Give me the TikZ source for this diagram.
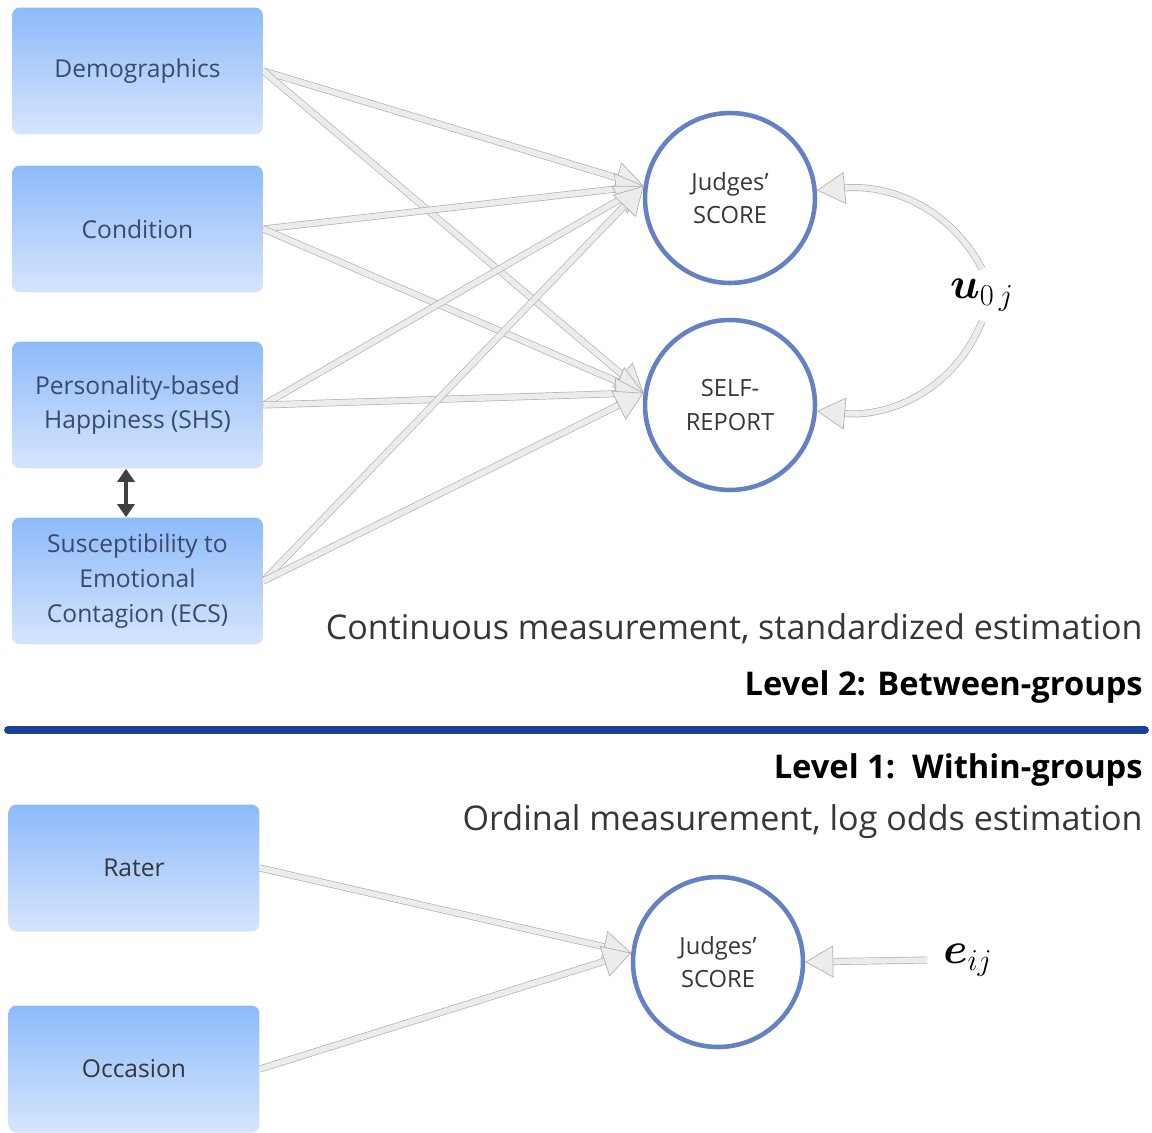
\documentclass[tikz,border=0pt]{standalone}
\usepackage{amsmath,bm}
\usepackage[no-math]{fontspec}
\setmainfont{Open Sans}
\usetikzlibrary{arrows.meta,positioning,calc}
\definecolor{boxtop}{RGB}{141,187,250}
\definecolor{boxbot}{RGB}{214,229,253}
\definecolor{boxtext}{RGB}{58,74,106}
\definecolor{darktext}{RGB}{55,55,55}
\definecolor{circblue}{RGB}{100,130,195}
\definecolor{sepblue}{RGB}{28,64,150}
\definecolor{arrfill}{RGB}{236,236,236}
\definecolor{arrline}{RGB}{178,178,178}

\begin{document}
\begin{tikzpicture}[x=0.02cm, y=-0.02cm,
    factor/.style={rectangle, rounded corners=0.16cm, top color=boxtop, bottom color=boxbot,
        minimum width=5.02cm, minimum height=2.54cm, text=boxtext, align=center,
        font=\fontsize{14}{19.8}\selectfont, inner sep=2pt},
    latent/.style={circle, draw=circblue, line width=2.6pt, fill=white, minimum size=3.4cm,
        text=darktext, align=center, font=\fontsize{13.5}{19}\selectfont},
    conn/.style={draw=arrline, double=arrfill, double distance=3.2pt, line width=0.4pt,
        -{Triangle[length=0.56cm, width=0.64cm, fill=arrfill]}},
    biarrow/.style={line width=2.4pt, draw=black!75, {Triangle[length=0.26cm, width=0.34cm]}-{Triangle[length=0.26cm, width=0.34cm]}},
    caption/.style={anchor=east, inner sep=0pt, text=darktext, font=\fontsize{19.4}{23}\selectfont},
    level/.style={anchor=east, inner sep=0pt, text=black, font=\fontsize{18.6}{23}\selectfont\bfseries},
    errterm/.style={font=\fontsize{25}{30}\selectfont}
]
    \useasboundingbox (0,0) rectangle (1152,1132);

    % level 2 predictors
    \node[factor] (demo) at (137.5,71) {Demographics};
    \node[factor] (cond) at (137.5,229) {Condition};
    \node[factor] (shs) at (137.5,405) {Personality-based\\Happiness (SHS)};
    \node[factor] (ecs) at (137.5,581) {Susceptibility to\\Emotional\\Contagion (ECS)};

    % outcomes
    \node[latent] (js) at (730,198) {Judges'\\SCORE};
    \node[latent] (sr) at (730,405) {SELF-\\REPORT};
    \node[errterm, inner sep=0.2cm] (u0j) at (982,295) {$\bm{u}_{0\,j}$};

    \foreach \src in {demo,cond,shs,ecs} {
        \draw[conn] (\src.east) -- (js.172);
        \draw[conn] (\src.east) -- (sr.172);
    }
    \draw[biarrow] ([xshift=-0.23cm]shs.south) -- ([xshift=-0.23cm]ecs.north);
    \draw[conn] (u0j.north) to[out=118, in=5] (js.5);
    \draw[conn] (u0j.south) to[out=-112, in=-5] (sr.-4);

    \node[caption] (cont) at (1143,629) {Continuous measurement, standardized estimation};
    \node[level] (lvl2) at (1143,687) {Level 2: Between-groups};
    \draw[sepblue, line width=4.4pt, line cap=round] (8,730) -- (1145,730);
    \node[level] (lvl1) at (1143,770) {Level 1:\ \ Within-groups};
    \node[caption] (ord) at (1143,822) {Ordinal measurement, log odds estimation};

    % level 1
    \node[factor, text=darktext] (rater) at (134,868) {Rater};
    \node[factor, text=darktext] (occ) at (134,1069) {Occasion};
    \node[latent] (js1) at (718,962) {Judges'\\SCORE};
    \node[errterm, inner sep=0.32cm] (eij) at (968,960) {$\bm{e}_{ij}$};

    \draw[conn] (rater.east) -- (js1.174);
    \draw[conn] (occ.east) -- (js1.174);
    \draw[conn] (eij.west) -- (js1.east);
\end{tikzpicture}
\end{document}
